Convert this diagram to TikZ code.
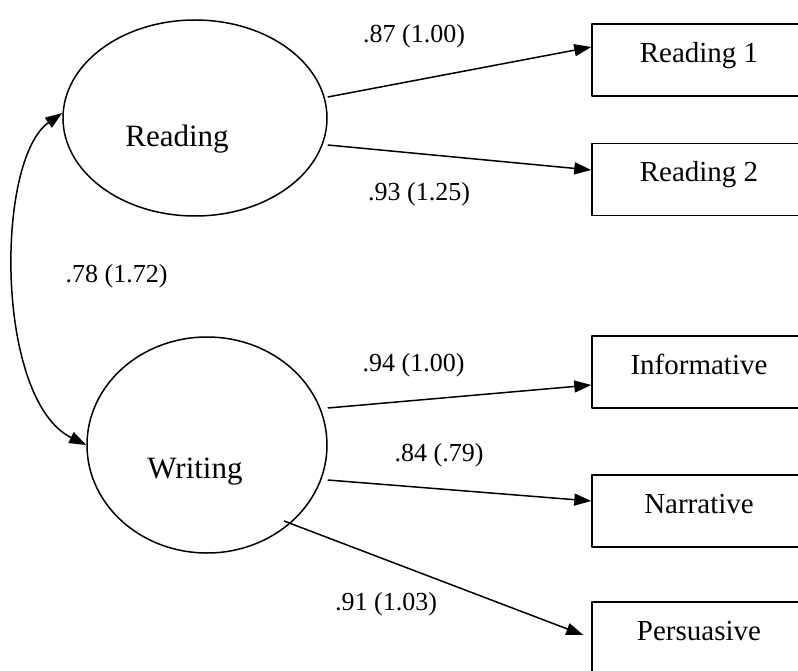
\documentclass[tikz,border=0pt]{standalone}
\usepackage{fontspec}
\setmainfont{Liberation Serif}
\usetikzlibrary{arrows.meta,shapes.geometric}
\begin{document}
\begin{tikzpicture}[x=1pt,y=-1pt,line join=round,line width=1.5pt,
	>={Triangle[length=17pt,width=12pt]},
	factor/.style={draw,ellipse,inner sep=0pt},
	factortext/.style={anchor=base,font=\fontsize{31}{36}\selectfont},
	indicator/.style={draw,rectangle,minimum width=214pt,minimum height=72pt,inner sep=0pt,
		text height=20pt,text depth=15pt,font=\fontsize{29}{34}\selectfont},
	loading/.style={anchor=base,font=\fontsize{26}{30}\selectfont}]
				\useasboundingbox (0,0) rectangle (798,671);
				\node[factor,minimum width=264pt,minimum height=196pt] (reading) at (195,118) {};
				\node[factor,minimum width=240pt,minimum height=216pt] (writing) at (207,445) {};
				\node[factortext] (readtext) at ([xshift=-18pt,yshift=-29pt]reading.center) {Reading};
				\node[factortext] (writetext) at ([xshift=-12pt,yshift=-33pt]writing.center) {Writing};
				\node[indicator] (read1) at (699,60) {Reading 1};
				\node[indicator] (read2) at (699,179.5) {Reading 2};
				\node[indicator] (inform) at (699,372) {Informative};
				\node[indicator] (narr) at (699,511) {Narrative};
				\node[indicator] (persu) at (699,638) {Persuasive};
				\draw[->] ([yshift=21pt]reading.east) -- ([yshift=13pt]read1.west);
				\draw[->] ([yshift=-27pt]reading.east) -- ([yshift=9.5pt]read2.west);
				\draw[->] ([yshift=37pt]writing.east) -- ([yshift=-13pt]inform.west);
				\draw[->] ([yshift=-35pt]writing.east) -- ([yshift=10pt]narr.west);
				\draw[->] ([xshift=77pt,yshift=-76pt]writing.center) -- ([xshift=-8pt,yshift=3pt]persu.west);
				\draw[<->] ([yshift=5pt]reading.west) .. controls (-5,160) and (-5,400) .. (writing.west);
				\node[loading] (lra) at (414,43) {.87 (1.00)};
				\node[loading] (lrb) at (419,201) {.93 (1.25)};
				\node[loading] (lcov) at (116.5,283) {.78 (1.72)};
				\node[loading] (lwa) at (413.5,371) {.94 (1.00)};
				\node[loading] (lwb) at (439,461) {.84 (.79)};
				\node[loading] (lwc) at (386,610) {.91 (1.03)};
			\end{tikzpicture}
\end{document}
